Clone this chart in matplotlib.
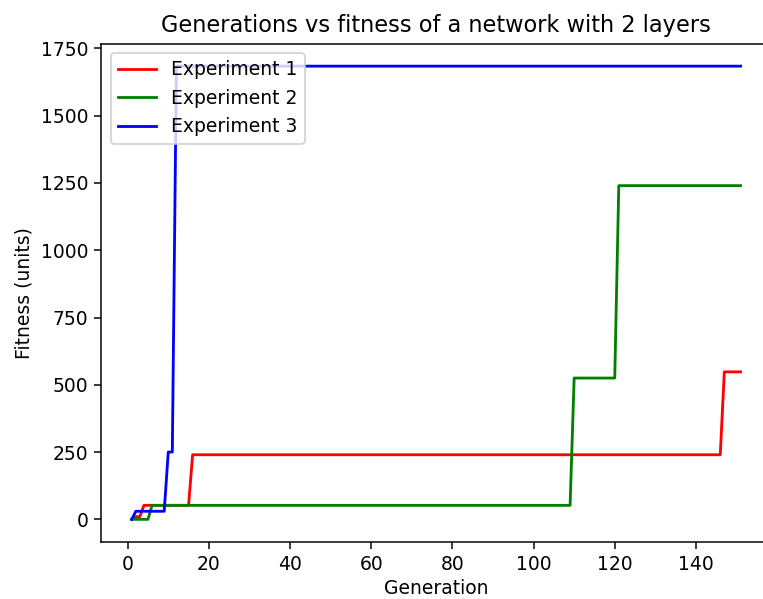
import matplotlib
matplotlib.use("Agg")
import matplotlib.pyplot as plt

# Step points (generation, fitness)
exp1_gen = [1, 2, 3, 4, 15, 16, 146, 147, 151]
exp1_fit = [0, 10, 10, 52, 52, 240, 240, 548, 548]

exp2_gen = [1, 5, 6, 109, 110, 120, 121, 151]
exp2_fit = [0, 0, 52, 52, 525, 525, 1240, 1240]

exp3_gen = [1, 2, 9, 10, 11, 12, 151]
exp3_fit = [0, 30, 30, 250, 250, 1684, 1684]

labels = ["Experiment 1", "Experiment 2", "Experiment 3"]
colors = ["red", "green", "blue"]

DPI = 135
fig = plt.figure(figsize=(763 / DPI, 599 / DPI), dpi=DPI)
W, H = 763, 599
left, right, top, bottom = 101.3, 771, 43.5, 542
ax = fig.add_axes([left / W, (H - bottom) / H, (right - left) / W, (bottom - top) / H])

ax.plot(exp1_gen, exp1_fit, color=colors[0], label=labels[0])
ax.plot(exp2_gen, exp2_fit, color=colors[1], label=labels[1])
ax.plot(exp3_gen, exp3_fit, color=colors[2], label=labels[2])

ax.set_title("Generations vs fitness of a network with 2 layers")
ax.set_xlabel("Generation", labelpad=2.5)
ax.set_ylabel("Fitness (units)")
ax.legend(loc="upper left")

fig.savefig("out.png", dpi=DPI)
